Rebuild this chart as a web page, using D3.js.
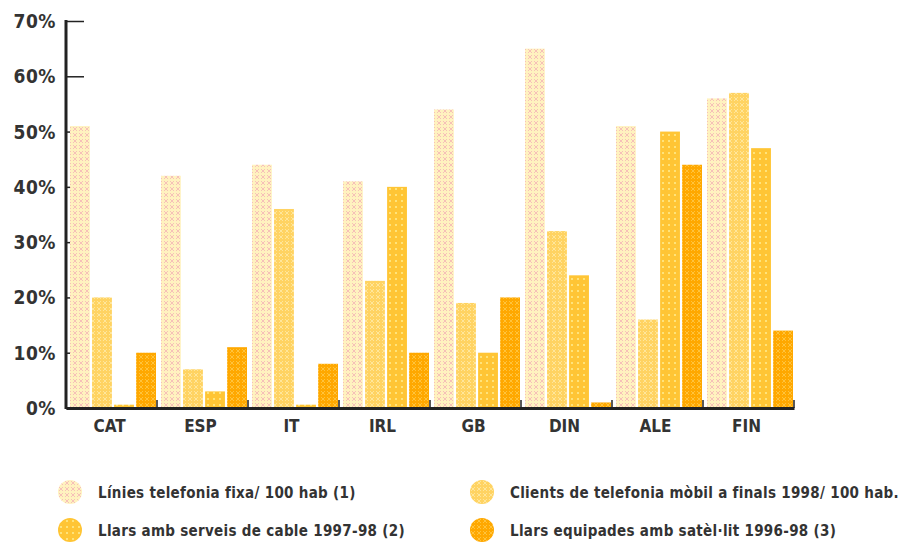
<!DOCTYPE html>
<html>
<head>
<meta charset="utf-8">
<script src="https://cdn.jsdelivr.net/npm/d3@7"></script>
<style>
  body { margin: 0; background: #fff; }
  text { font-family: "DejaVu Sans Condensed", "Liberation Sans Narrow", sans-serif; font-weight: bold; fill: #333; }
</style>
</head>
<body>
<script>
var w = 920, h = 547;

var categories = ["CAT", "ESP", "IT", "IRL", "GB", "DIN", "ALE", "FIN"];
var fixa = [51, 42, 44, 41, 54, 65, 51, 56];
var mobil = [20, 7, 36, 23, 19, 32, 16, 57];
var cable = [0.6, 3, 0.6, 40, 10, 24, 50, 47];
var satelit = [10, 11, 8, 10, 20, 1, 44, 14];
var yTicks = [0, 10, 20, 30, 40, 50, 60, 70];
var seriesNames = [
  "Línies telefonia fixa/ 100 hab (1)",
  "Clients de telefonia mòbil a finals 1998/ 100 hab.",
  "Llars amb serveis de cable 1997-98 (2)",
  "Llars equipades amb satèl·lit 1996-98 (3)"
];

var series = [fixa, mobil, cable, satelit];

var svg = d3.select("body").append("svg")
    .attr("width", w)
    .attr("height", h);

// patterns, one per series
var defs = svg.append("defs");
var pats = [
  { base: "#fff2bf", mark: "#f6c0b8", kind: "x" },
  { base: "#ffd362", mark: "#ffe69a", kind: "x" },
  { base: "#ffc535", mark: "#ffe37a", kind: "dot" },
  { base: "#ffa800", mark: "#ffc33c", kind: "x" }
];
pats.forEach(function (p, i) {
  var pat = defs.append("pattern")
      .attr("id", "pat" + i)
      .attr("patternUnits", "userSpaceOnUse")
      .attr("width", 6).attr("height", 6);
  pat.append("rect").attr("width", 6).attr("height", 6).attr("fill", p.base);
  if (p.kind == "x") {
    pat.append("path").attr("d", "M1,1L5,5M5,1L1,5")
        .attr("stroke", p.mark).attr("stroke-width", 1);
  } else {
    pat.append("rect").attr("x", 2).attr("y", 2).attr("width", 2).attr("height", 2)
        .attr("fill", p.mark);
  }
});

var x = d3.scaleBand()
    .domain(categories)
    .range([66, 794]);

var xInner = d3.scaleBand()
    .domain(d3.range(series.length))
    .range([4, x.bandwidth() - 1])
    .paddingInner(0.1);

var y = d3.scaleLinear()
    .domain([0, 70])
    .range([408, 21]);

// y axis
var yAxis = d3.axisRight(y)
    .tickValues(yTicks)
    .tickSize(18)
    .tickFormat("");
var gy = svg.append("g").attr("transform", "translate(66,0)").call(yAxis);
gy.select(".domain").remove();
gy.selectAll("line").attr("stroke", "#222").attr("stroke-width", 1.5);

svg.selectAll(".ylab")
    .data(yTicks)
    .enter().append("text")
    .attr("x", 56)
    .attr("y", function (d) { return y(d) + 7; })
    .attr("text-anchor", "end")
    .attr("font-size", 19)
    .attr("letter-spacing", 0.5)
    .text(function (d) { return d + "%"; });

// bars
var groups = svg.selectAll(".cat")
    .data(categories)
    .enter().append("g")
    .attr("transform", function (d) { return "translate(" + x(d) + ",0)"; });

groups.selectAll("rect")
    .data(function (d, i) { return series.map(function (s, j) { return { s: j, v: s[i] }; }); })
    .enter().append("rect")
    .attr("x", function (d) { return xInner(d.s); })
    .attr("width", xInner.bandwidth())
    .attr("y", function (d) { return y(d.v); })
    .attr("height", function (d) { return y(0) - y(d.v); })
    .attr("fill", function (d) { return "url(#pat" + d.s + ")"; });

// axis lines
svg.append("line").attr("x1", 66).attr("x2", 66).attr("y1", 20).attr("y2", 409)
    .attr("stroke", "#222").attr("stroke-width", 3);

var xAxis = d3.axisTop(x).tickSize(0).tickFormat("");
var gx = svg.append("g").attr("transform", "translate(0,408)").call(xAxis);
gx.select(".domain").attr("stroke", "#222").attr("stroke-width", 3);

svg.selectAll(".xtick")
    .data(categories)
    .enter().append("line")
    .attr("x1", function (d) { return x(d) + x.bandwidth(); })
    .attr("x2", function (d) { return x(d) + x.bandwidth(); })
    .attr("y1", 400).attr("y2", 408)
    .attr("stroke", "#222").attr("stroke-width", 1.5);

svg.selectAll(".xlab")
    .data(categories)
    .enter().append("text")
    .attr("x", function (d) { return x(d) + x.bandwidth() / 2 - 2; })
    .attr("y", 432)
    .attr("text-anchor", "middle")
    .attr("font-size", 17)
    .text(function (d) { return d; });

// legend
var legPos = [[70, 492], [482, 492], [70, 530], [482, 530]];
var leg = svg.selectAll(".leg")
    .data(seriesNames)
    .enter().append("g")
    .attr("transform", function (d, i) { return "translate(" + legPos[i][0] + "," + legPos[i][1] + ")"; });

leg.append("circle")
    .attr("r", 12)
    .attr("fill", function (d, i) { return "url(#pat" + i + ")"; });

leg.append("text")
    .attr("x", 28)
    .attr("y", 6)
    .attr("font-size", 15)
    .attr("letter-spacing", 0.3)
    .text(function (d) { return d; });
</script>
</body>
</html>
